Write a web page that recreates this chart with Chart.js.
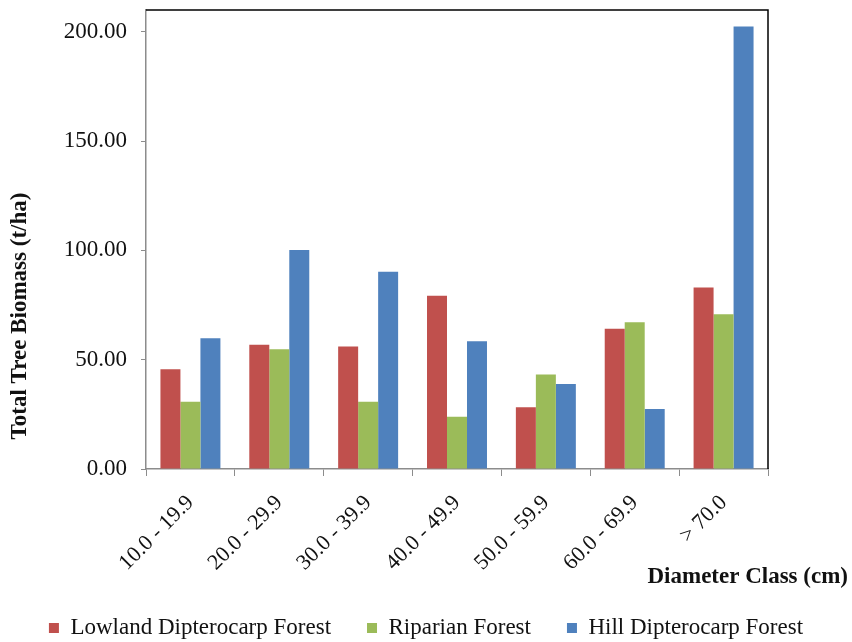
<!DOCTYPE html>
<html><head><meta charset="utf-8">
<script src="https://cdn.jsdelivr.net/npm/chart.js@4.4.0/dist/chart.umd.min.js"></script>
<style>html,body{margin:0;padding:0;background:#fff}#wrap{width:852px;height:642px}</style>
</head><body><div id="wrap"><canvas id="c" width="852" height="642"></canvas></div>
<script>
const categories = ['10.0 - 19.9','20.0 - 29.9','30.0 - 39.9','40.0 - 49.9','50.0 - 59.9','60.0 - 69.9','> 70.0'];
const lowland = [45.6, 56.9, 56.1, 79.3, 28.2, 64.2, 83.0];
const riparian = [30.8, 54.8, 30.8, 23.9, 43.2, 67.1, 70.8];
const hill = [59.8, 100.2, 90.2, 58.4, 38.9, 27.5, 202.4];
const yTicks = [0, 50, 100, 150, 200];
const seriesNames = ['Lowland Dipterocarp Forest', 'Riparian Forest', 'Hill Dipterocarp Forest'];
const xTitle = 'Diameter Class (cm)';
const yTitle = 'Total Tree Biomass (t/ha)';

const FONT = 'Liberation Serif';
const TEXT = '#111';
const AXIS = '#8c8c8c';
Chart.defaults.font.family = FONT;

const framePlugin = {
  id: 'frame',
  afterDraw(chart) {
    const {ctx, chartArea: a} = chart;
    ctx.save();
    ctx.strokeStyle = '#000';
    ctx.lineWidth = 1.5;
    ctx.beginPath();
    ctx.moveTo(a.left, a.top);
    ctx.lineTo(a.right, a.top);
    ctx.lineTo(a.right, a.bottom);
    ctx.stroke();
    ctx.fillStyle = TEXT;
    ctx.font = 'bold 23px "' + FONT + '"';
    ctx.textBaseline = 'middle';
    ctx.textAlign = 'right';
    ctx.fillText(xTitle, chart.width - 4, a.bottom + 108);
    ctx.translate(20, a.bottom - 153);
    ctx.rotate(-Math.PI / 2);
    ctx.textAlign = 'center';
    ctx.fillText(yTitle, 0, 0);
    ctx.restore();
  }
};

new Chart(document.getElementById('c'), {
  type: 'bar',
  data: {
    labels: categories,
    datasets: [
      {label: seriesNames[0], data: lowland, backgroundColor: '#C0504D'},
      {label: seriesNames[1], data: riparian, backgroundColor: '#9BBB59'},
      {label: seriesNames[2], data: hill, backgroundColor: '#4F81BD'}
    ]
  },
  options: {
    responsive: false,
    animation: false,
    devicePixelRatio: 1,
    categoryPercentage: 0.675,
    barPercentage: 1.0,
    layout: {padding: {left: 0, right: 0, top: 10, bottom: -7.5}},
    scales: {
      x: {
        afterFit: s => { s.height = 111.5; },
        ticks: {maxRotation: 45, minRotation: 45, autoSkip: false, padding: 14,
                font: {family: FONT, size: 22}, color: TEXT},
        grid: {drawOnChartArea: false, tickLength: 7, color: AXIS, offset: true},
        border: {color: AXIS, width: 1.5}
      },
      y: {
        min: 0, max: 210,
        afterBuildTicks: s => { s.ticks = yTicks.map(v => ({value: v})); },
        afterFit: s => { s.width = 146; s.paddingTop = 0; s.paddingBottom = 0; },
        ticks: {callback: v => Number(v).toFixed(2), padding: 14,
                font: {family: FONT, size: 23}, color: TEXT},
        grid: {drawOnChartArea: false, tickLength: 5, color: AXIS},
        border: {color: AXIS, width: 1.5}
      },
      yR: {
        type: 'linear', position: 'right', display: true,
        afterFit: s => { s.width = 84; s.paddingTop = 0; s.paddingBottom = 0; },
        ticks: {display: false},
        grid: {display: false, drawTicks: false},
        border: {display: false}
      }
    },
    plugins: {
      legend: {
        position: 'bottom',
        labels: {boxWidth: 10, boxHeight: 10, padding: 36, color: TEXT,
                 font: {family: FONT, size: 23}}
      },
      tooltip: {enabled: false}
    }
  },
  plugins: [framePlugin]
});
</script>
</body></html>
